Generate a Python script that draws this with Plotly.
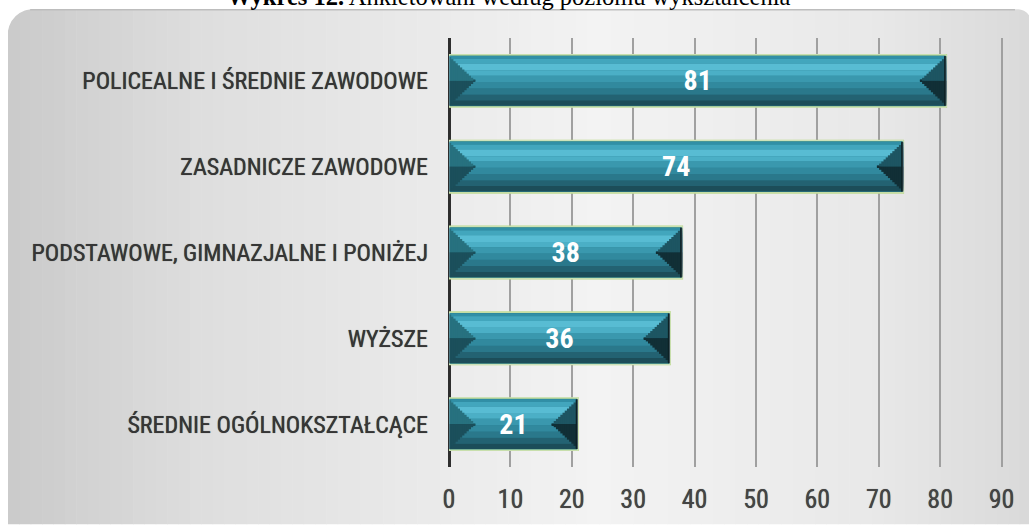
import plotly.graph_objects as go

# ---- data (top to bottom as shown) ----
categories = [
    "POLICEALNE I ŚREDNIE ZAWODOWE",
    "ZASADNICZE ZAWODOWE",
    "PODSTAWOWE, GIMNAZJALNE I PONIŻEJ",
    "WYŻSZE",
    "ŚREDNIE OGÓLNOKSZTAŁCĄCE",
]
values = [81, 74, 38, 36, 21]
x_ticks = [0, 10, 20, 30, 40, 50, 60, 70, 80, 90]
title_text = "<b>Wykres 12.</b> Ankietowani według poziomu wykształcenia"

W, H = 1029, 526
ML, MR, MT, MB = 449, 25, 38, 54
PW, PH = W - ML - MR, H - MT - MB


def xp(px):
    return (px - ML) / PW


def yp(py):
    return (H - MB - py) / PH


BW = 0.61  # bar thickness in category units
LABEL_FONT = "Liberation Sans Narrow, Arial Narrow, Roboto Condensed, DejaVu Sans Condensed, sans-serif"

fig = go.Figure()


def layer(color, off, width, line=None, base=None, xs=None):
    fig.add_trace(go.Bar(
        y=categories, x=xs if xs is not None else values, base=base,
        orientation="h", width=width, offset=off,
        marker=dict(color=color, line=line or dict(width=0)),
        hoverinfo="skip", showlegend=False,
    ))


# base bar with light green rim
layer("#2c8397", -BW / 2, BW, line=dict(color="#b6d77f", width=1.6))

# front-face gradient stripes (fractions measured from the top edge)
stripes = [
    (0.025, 0.08, "#318fa6"),
    (0.08, 0.17, "#42a6bd"),
    (0.17, 0.30, "#58bcd3"),
    (0.30, 0.40, "#4bafc6"),
    (0.40, 0.52, "#3a98ae"),
    (0.52, 0.64, "#31899e"),
    (0.64, 0.76, "#2a788b"),
    (0.76, 0.87, "#236272"),
    (0.87, 0.975, "#1c4d59"),
]
for f1, f2, c in stripes:
    layer(c, BW / 2 - f2 * BW, (f2 - f1) * BW)

# bevelled ends: stepped triangles measured back from each bar's ends
D = 4.3
n = 12
inner = BW * 0.95
for k in range(n, 0, -1):
    L = D * k / n
    t = inner * (1 - (k - 0.5) / n)
    # right end: upper facet and lower facet
    layer("#1d5562", 0, t / 2, base=[v - L for v in values], xs=[L] * len(values))
    layer("#112f36", -t / 2, t / 2, base=[v - L for v in values], xs=[L] * len(values))
    # left end
    layer("#27717f", 0, t / 2, base=[0] * len(values), xs=[L] * len(values))
    layer("#1b4f5b", -t / 2, t / 2, base=[0] * len(values), xs=[L] * len(values))
# darkest edge at the right end
layer("#0c2125", -inner / 2, inner, base=[v - 0.35 for v in values], xs=[0.35] * len(values))

# value labels
fig.add_trace(go.Bar(
    y=categories, x=values, orientation="h", width=BW, offset=-BW / 2,
    marker=dict(color="rgba(0,0,0,0)"),
    text=[str(v) for v in values], textposition="inside", insidetextanchor="middle",
    textfont=dict(family=LABEL_FONT, size=28, color="white", weight="bold"),
    hoverinfo="skip", showlegend=False,
))

# ---- background panel (horizontal gradient) ----
stops = [(8, (0xCA, 0xCA, 0xCA)), (200, (0xDE, 0xDE, 0xDE)), (600, (0xF3, 0xF3, 0xF3)),
         (880, (0xE8, 0xE8, 0xE8)), (1030, (0xD9, 0xD9, 0xD9))]


def col_at(px):
    for (a, ca), (b, cb) in zip(stops, stops[1:]):
        if a <= px <= b:
            t = (px - a) / (b - a)
            return "rgb(%d,%d,%d)" % tuple(round(ca[i] + (cb[i] - ca[i]) * t) for i in range(3))
    return "rgb(217,217,217)"


shapes = []
N = 90
x0, x1 = 8, 1031
for i in range(N):
    a = x0 + (x1 - x0) * i / N
    b = x0 + (x1 - x0) * (i + 1) / N + 0.6
    shapes.append(dict(type="rect", xref="paper", yref="paper", layer="below",
                       x0=xp(a), x1=xp(b), y0=yp(9), y1=yp(530),
                       fillcolor=col_at((a + b) / 2), line=dict(width=0)))
# top edge shade
shapes.append(dict(type="line", xref="paper", yref="paper", layer="below",
                   x0=xp(30), x1=xp(1015), y0=yp(9.5), y1=yp(9.5),
                   line=dict(color="#bdbdbd", width=1.5)))
# rounded corner masks
r1 = 30
shapes.append(dict(type="path", xref="paper", yref="paper", layer="below",
                   path="M %f %f L %f %f Q %f %f %f %f Z" % (
                       xp(7), yp(8), xp(8 + r1), yp(8), xp(8), yp(9), xp(7), yp(9 + r1)),
                   fillcolor="white", line=dict(width=0)))
r2 = 14
shapes.append(dict(type="path", xref="paper", yref="paper", layer="below",
                   path="M %f %f L %f %f Q %f %f %f %f Z" % (
                       xp(1031), yp(8), xp(1031 - r2 - 4), yp(8), xp(1031), yp(9), xp(1031), yp(9 + r2)),
                   fillcolor="white", line=dict(width=0)))
shapes.append(dict(type="rect", xref="paper", yref="paper", layer="below",
                   x0=xp(0), x1=xp(1031), y0=yp(0), y1=yp(8.5),
                   fillcolor="white", line=dict(width=0)))
shapes.append(dict(type="rect", xref="paper", yref="paper", layer="below",
                   x0=xp(0), x1=xp(7.5), y0=yp(0), y1=yp(530),
                   fillcolor="white", line=dict(width=0)))

fig.update_layout(
    width=W, height=H,
    margin=dict(l=ML, r=MR, t=MT, b=MB),
    paper_bgcolor="white", plot_bgcolor="rgba(0,0,0,0)",
    barmode="overlay",
    shapes=shapes,
    annotations=[dict(text=title_text, xref="paper", yref="paper",
                      x=xp(509), y=yp(12), xanchor="center", yanchor="bottom",
                      showarrow=False,
                      font=dict(family="Liberation Serif, Times New Roman, serif", size=24.5, color="black"))],
    xaxis=dict(range=[0, 90.4], tickvals=x_ticks, ticktext=[str(t) for t in x_ticks],
               showgrid=True, gridcolor="#a0a0a0", gridwidth=1.5,
               zeroline=True, zerolinecolor="#2e2e2e", zerolinewidth=3,
               showline=False, ticks="", ticklabelstandoff=14,
               tickfont=dict(family=LABEL_FONT, size=26, color="#444444",
                             shadow="0 0 0.7px #444444")),
    yaxis=dict(categoryorder="array", categoryarray=categories[::-1],
               showgrid=False, zeroline=False, showline=False, ticks="",
               ticklabelstandoff=20,
               tickfont=dict(family=LABEL_FONT, size=24, color="#363636",
                             shadow="0 0 0.7px #363636")),
)

fig.write_html("out.html", config={"displayModeBar": False},
               post_script="document.body.style.margin='0';document.body.style.overflow='hidden';")
